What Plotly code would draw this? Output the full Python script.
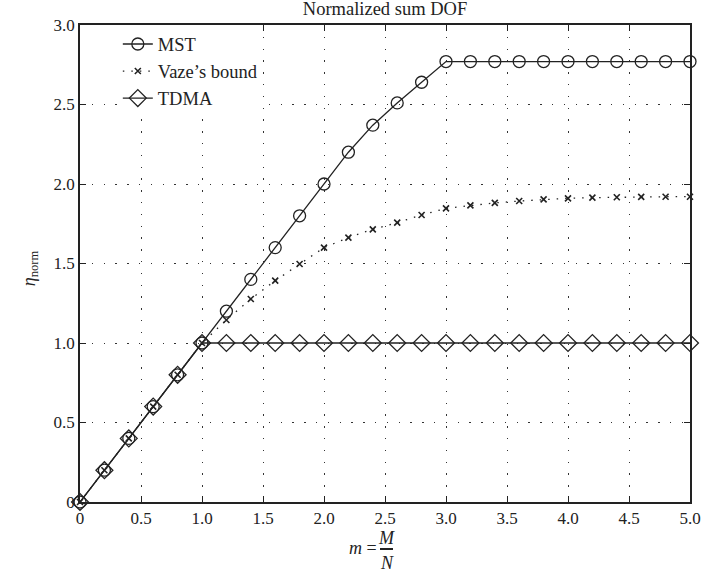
import plotly.graph_objects as go

# ---------------- data ----------------
m_values = [0.0, 0.2, 0.4, 0.6, 0.8, 1.0, 1.2, 1.4, 1.6, 1.8, 2.0, 2.2, 2.4,
            2.6, 2.8, 3.0, 3.2, 3.4, 3.6, 3.8, 4.0, 4.2, 4.4, 4.6, 4.8, 5.0]
mst = [0.0, 0.2, 0.4, 0.6, 0.8, 1.0, 1.2, 1.4, 1.6, 1.8, 2.0, 2.2, 2.37,
       2.51, 2.64, 2.77, 2.77, 2.77, 2.77, 2.77, 2.77, 2.77, 2.77, 2.77, 2.77, 2.77]
vaze = [0.0, 0.2, 0.4, 0.6, 0.8, 1.0, 1.145, 1.277, 1.392, 1.497, 1.60, 1.663, 1.715,
        1.757, 1.805, 1.847, 1.866, 1.881, 1.893, 1.903, 1.91, 1.914, 1.917, 1.919, 1.92, 1.92]
tdma = [0.0, 0.2, 0.4, 0.6, 0.8, 1.0, 1.0, 1.0, 1.0, 1.0, 1.0, 1.0, 1.0,
        1.0, 1.0, 1.0, 1.0, 1.0, 1.0, 1.0, 1.0, 1.0, 1.0, 1.0, 1.0, 1.0]

x_ticks = [0, 0.5, 1.0, 1.5, 2.0, 2.5, 3.0, 3.5, 4.0, 4.5, 5.0]
x_tick_labels = ["0", "0.5", "1.0", "1.5", "2.0", "2.5", "3.0", "3.5", "4.0", "4.5", "5.0"]
y_ticks = [0, 0.5, 1.0, 1.5, 2.0, 2.5, 3.0]
y_tick_labels = ["0", "0.5", "1.0", "1.5", "2.0", "2.5", "3.0"]

FONT = "Liberation Serif"
INK = "#222222"

fig = go.Figure()
fig.add_trace(go.Scatter(
    x=m_values, y=mst, name="MST", mode="lines+markers",
    line=dict(color=INK, width=1.3),
    marker=dict(symbol="circle-open", size=12, color=INK, line=dict(width=1.3)),
    cliponaxis=False))
fig.add_trace(go.Scatter(
    x=m_values, y=vaze, name="Vaze’s bound", mode="lines+markers",
    line=dict(color=INK, width=1.3, dash="1.5px,7px"),
    marker=dict(symbol="x-thin-open", size=6, color=INK, line=dict(width=1.6, color=INK)),
    cliponaxis=False))
fig.add_trace(go.Scatter(
    x=m_values, y=tdma, name="TDMA", mode="lines+markers",
    line=dict(color=INK, width=1.3),
    marker=dict(symbol="diamond-open", size=13, color=INK, line=dict(width=1.3)),
    cliponaxis=False))

axis_common = dict(
    showgrid=True, gridcolor="#333333", gridwidth=1.3, griddash="1.3px,10.5px",
    showline=True, linecolor=INK, linewidth=1.5, mirror="allticks",
    ticks="inside", ticklen=6, tickcolor=INK, tickwidth=1,
    zeroline=False, automargin=False,
    tickfont=dict(family=FONT, size=17, color=INK),
)

fig.update_layout(
    width=706, height=578,
    margin=dict(l=80, r=16, t=25, b=76),
    paper_bgcolor="white", plot_bgcolor="white",
    font=dict(family=FONT, color=INK, size=17),
    title=dict(text="Normalized sum DOF", x=0.5, xref="paper", xanchor="center",
               y=1 - 9 / 578, yanchor="middle", font=dict(family=FONT, size=18.5, color=INK)),
    xaxis=dict(range=[0, 5], tickvals=x_ticks, ticktext=x_tick_labels, **axis_common),
    yaxis=dict(range=[0, 3], tickvals=y_ticks, ticktext=y_tick_labels, **axis_common),
    legend=dict(x=0.062, y=0.999, xanchor="left", yanchor="top",
                bgcolor="white", borderwidth=0, tracegroupgap=0,
                font=dict(family=FONT, size=18.5, color=INK), itemwidth=30),
    showlegend=True,
)

# y-axis title (rotated)
fig.add_annotation(text="<i>η</i><sub>norm</sub>", xref="paper", yref="paper",
                   x=-50 / 610, y=0.49, textangle=-90, showarrow=False,
                   xanchor="center", yanchor="middle",
                   font=dict(family=FONT, size=18, color=INK))
# x-axis title: m = M / N
fig.add_annotation(text="<i>m</i> =", xref="paper", yref="paper",
                   x=(379 - 80) / 610, y=(502 - 548) / 477, showarrow=False,
                   xanchor="right", yanchor="middle",
                   font=dict(family=FONT, size=18, color=INK))
fig.add_annotation(text="<i>M</i>", xref="paper", yref="paper",
                   x=(386.5 - 80) / 610, y=(502 - 538) / 477, showarrow=False,
                   xanchor="center", yanchor="middle",
                   font=dict(family=FONT, size=18, color=INK))
fig.add_annotation(text="<i>N</i>", xref="paper", yref="paper",
                   x=(386.5 - 80) / 610, y=(502 - 563) / 477, showarrow=False,
                   xanchor="center", yanchor="middle",
                   font=dict(family=FONT, size=18, color=INK))
fig.add_shape(type="line", xref="paper", yref="paper",
              x0=(380 - 80) / 610, x1=(393 - 80) / 610,
              y0=(502 - 549) / 477, y1=(502 - 549) / 477,
              line=dict(color=INK, width=2))

fig.write_html("out.html", config={"displayModeBar": False},
               post_script="document.body.style.margin='0px';")
